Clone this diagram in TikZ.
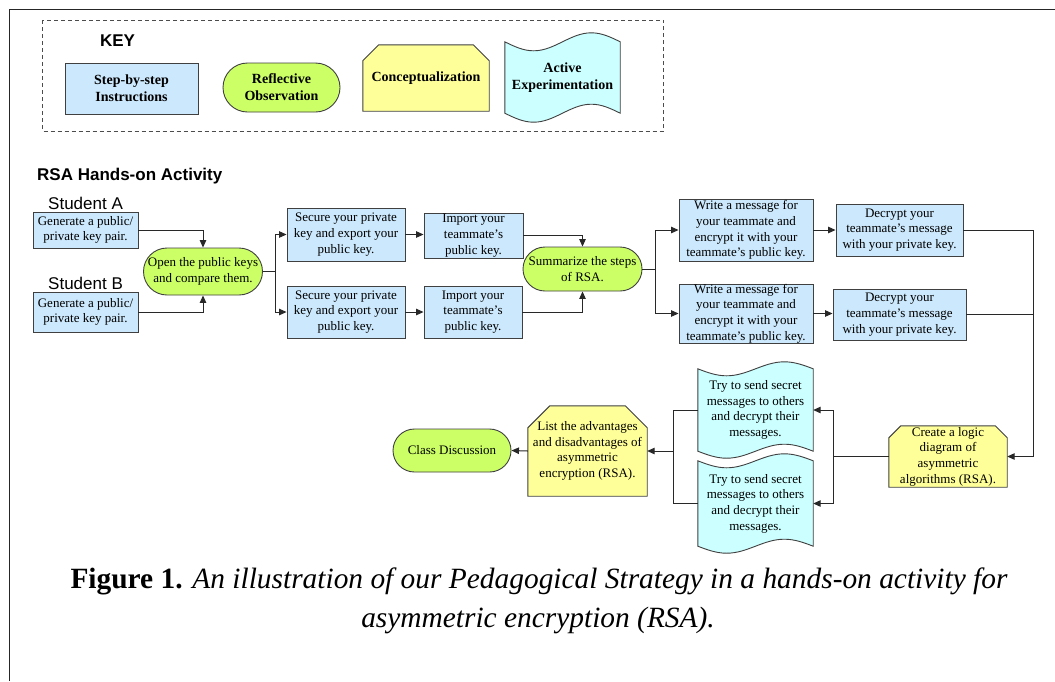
\documentclass[tikz,border=0pt]{standalone}
\usepackage{fontspec}
\setmainfont{Liberation Serif}
\newfontfamily\arialfont{Liberation Sans}
\usetikzlibrary{shapes.misc,arrows.meta,backgrounds,calc}
\definecolor{boxblue}{RGB}{204,232,252}
\definecolor{boxgreen}{RGB}{204,255,102}
\definecolor{boxyellow}{RGB}{255,255,153}
\definecolor{boxcyan}{RGB}{204,255,255}
\definecolor{edgecol}{RGB}{64,64,64}
\definecolor{wirecol}{RGB}{40,40,40}
\newcommand\chamfershape[2]{%
  \filldraw[draw=edgecol, fill=boxyellow, line width=0.9pt]
    ([yshift=-#2]#1.north west) -- ([xshift=#2]#1.north west) -- ([xshift=-#2]#1.north east)
    -- ([yshift=-#2]#1.north east) -- (#1.south east) -- (#1.south west) -- cycle;}
\newcommand\tapeshape[2]{%
  \filldraw[draw=edgecol, fill=boxcyan, line width=0.9pt]
    let \p1=(#1.north west), \p2=(#1.south east), \n1={\x2-\x1} in
    (\x1,\y1) sin ({\x1+0.25*\n1},{\y1-#2}) cos ({\x1+0.5*\n1},\y1)
    sin ({\x1+0.75*\n1},{\y1+#2}) cos (\x2,\y1)
    -- (\x2,\y2) sin ({\x1+0.75*\n1},{\y2+#2}) cos ({\x1+0.5*\n1},\y2)
    sin ({\x1+0.25*\n1},{\y2-#2}) cos (\x1,\y2) -- cycle;}
\begin{document}
\begin{tikzpicture}[x=1pt,y=-1pt,
  txt/.style={font=\fontsize{13}{15.7}\selectfont, align=center, inner sep=0pt},
  keytxt/.style={font=\fontsize{14}{17}\selectfont\bfseries, align=center, inner sep=0pt},
  stepbox/.style={draw=edgecol, fill=boxblue, line width=0.9pt, rectangle},
  reflbox/.style={draw=edgecol, fill=boxgreen, line width=0.9pt, rounded rectangle},
  plainbox/.style={rectangle, draw=none},
  sz/.style 2 args={minimum width=#1pt, minimum height=#2pt},
  arr/.style={draw=wirecol, line width=1pt, -{Triangle[length=7.5pt,width=6.5pt]}},
  wire/.style={draw=wirecol, line width=1pt},
  sanstitle/.style={font=\arialfont\bfseries\fontsize{17}{20}\selectfont, inner sep=0pt},
  sanslabel/.style={font=\arialfont\fontsize{17}{20}\selectfont, inner sep=0pt},
]
\useasboundingbox (0,0) rectangle (1055,681);

% frame
\draw[line width=1.6pt, draw=black!85] (9.5,681) -- (9.5,9.5) -- (1055,9.5);
% key box
\draw[draw=black!70, line width=0.8pt, dash pattern=on 4pt off 3pt] (42.5,20) rectangle (663.5,131);

% key
\node[sanstitle] (key) at (117.5,41) {KEY};
\node[stepbox, sz={133}{51}, keytxt] (k1) at (131.5,88.5) {Step-by-step\\Instructions};
\node[reflbox, sz={117}{49}, keytxt] (k2) at (281.5,87.5) {Reflective\\Observation};
\node[plainbox, sz={126}{66}, keytxt] (k3) at (426,78) {Conceptualization};
\node[plainbox, sz={115}{71}, keytxt] (k4) at (562.5,77.5) {Active\\Experimentation};

% titles
\node[sanstitle, anchor=west] (title) at (37,176.5) {RSA Hands-on Activity};
\node[sanslabel, anchor=west] (sa) at (48,203) {Student A};
\node[sanslabel, anchor=west] (sb) at (48,283) {Student B};

% flow nodes
\node[stepbox, sz={105}{36}, txt] (a1) at (85.5,230) {Generate a public/\\private key pair.};
\node[stepbox, sz={105}{40}, txt] (b1) at (85.5,312) {Generate a public/\\private key pair.};
\node[reflbox, sz={118}{47}, txt] (open) at (203,271.5) {Open the public keys\\and compare them.};
\node[stepbox, sz={118}{53}, txt] (s1) at (346,234.5) {Secure your private\\key and export your\\public key.};
\node[stepbox, sz={118}{52}, txt] (s2) at (346,312) {Secure your private\\key and export your\\public key.};
\node[stepbox, sz={99}{45}, txt] (i1) at (473.5,235.5) {Import your\\teammate’s\\public key.};
\node[stepbox, sz={98}{52}, txt] (i2) at (473,312) {Import your\\teammate’s\\public key.};
\node[reflbox, sz={119}{44}, txt] (sum) at (582.5,269) {Summarize the steps\\of RSA.};
\node[stepbox, sz={134}{62}, txt] (w1) at (746,230) {Write a message for\\your teammate and\\encrypt it with your\\teammate’s public key.};
\node[stepbox, sz={127}{52}, txt] (d1) at (899.5,230) {Decrypt your\\teammate’s message\\with your private key.};
\node[stepbox, sz={134}{59}, txt] (w2) at (746,313.5) {Write a message for\\your teammate and\\encrypt it with your\\teammate’s public key.};
\node[stepbox, sz={133}{51}, txt] (d2) at (899.5,314.5) {Decrypt your\\teammate’s message\\with your private key.};
\node[plainbox, sz={118}{61}, txt] (create) at (948,456.5) {Create a logic\\diagram of\\asymmetric\\algorithms (RSA).};
\node[plainbox, sz={115}{82}, txt] (t1) at (755.5,410) {Try to send secret\\messages to others\\and decrypt their\\messages.};
\node[plainbox, sz={115}{85}, txt] (t2) at (755.5,503.5) {Try to send secret\\messages to others\\and decrypt their\\messages.};
\node[plainbox, sz={119}{90}, txt] (list) at (587.5,451) {List the advantages\\and disadvantages of\\asymmetric\\encryption (RSA).};
\node[reflbox, sz={118}{43}, txt] (class) at (452,450.5) {Class Discussion};

% shapes drawn behind text
\begin{scope}[on background layer]
  \fill[white] (0,0) rectangle (1055,681);
  \chamfershape{k3}{16pt}
  \tapeshape{k4}{9pt}
  \chamfershape{create}{12pt}
  \chamfershape{list}{22pt}
  \tapeshape{t1}{7pt}
  \tapeshape{t2}{7pt}
\end{scope}

% connectors
\draw[arr] (a1.east) -| (open.north);
\draw[arr] (b1.east) -| (open.south);
\draw[arr] (open.east) -- ++(13,0) |- (s1.west);
\draw[arr] (open.east) -- ++(13,0) |- (s2.west);
\draw[arr] (s1.east) -- (s1.east -| i1.west);
\draw[arr] (s2.east) -- (s2.east -| i2.west);
\draw[arr] (i1.east) -| (sum.north);
\draw[arr] (i2.east) -| (sum.south);
\draw[arr] (sum.east) -- ++(13,0) |- (w1.west);
\draw[arr] (sum.east) -- ++(13,0) |- (w2.west);
\draw[arr] (w1.east) -- (w1.east -| d1.west);
\draw[arr] (w2.east) -- (w2.east -| d2.west);
\coordinate (rx) at (1033,456.5);
\draw[arr] (d1.east) -| (rx) -- (create.east);
\draw[wire] (d2.east) -- (d2.east -| rx);
\coordinate (cx) at (833,456.5);
\draw[arr] (create.west) -- (cx) |- (t1.east);
\draw[arr] (create.west) -- (cx) |- (t2.east);
\coordinate (lx) at (673,451);
\draw[wire] (t1.west) -| (lx);
\draw[wire] (t2.west) -| (lx);
\draw[arr] (lx) -- (list.east);
\draw[arr] (list.west) -- (class.east);

% caption
\node[font=\fontsize{29.4}{39}\selectfont, inner sep=0pt, anchor=base] (cap1) at (539,588)
  {\textbf{Figure 1.} \textit{An illustration of our Pedagogical Strategy in a hands-on activity for}};
\node[font=\fontsize{29.4}{39}\selectfont, inner sep=0pt, anchor=base] (cap2) at (538,627)
  {\textit{asymmetric encryption (RSA).}};
\end{tikzpicture}
\end{document}
